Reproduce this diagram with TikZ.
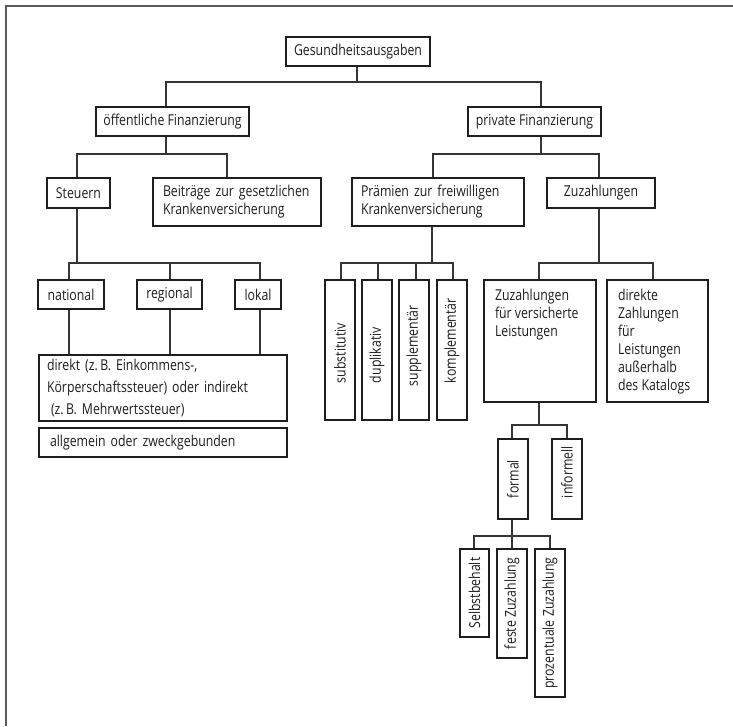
\documentclass[tikz,border=0pt]{standalone}
\usepackage{fontspec}
\setmainfont{Open Sans}[FakeStretch=0.82]
\definecolor{ink}{HTML}{1E1E1E}
\definecolor{framecol}{HTML}{5A5A5A}
\tikzset{
  box/.style={draw=ink, line width=1.7pt, inner sep=0pt, text=ink,
    font=\fontsize{15}{18}\selectfont},
  vbox/.style={box, rotate=90},
  link/.style={draw=ink!90, line width=1.2pt},
}
\begin{document}
\begin{tikzpicture}[x=1pt,y=-1pt]
\useasboundingbox (0,0) rectangle (733,726);
\draw[framecol, line width=1.5pt] (733,6) -- (6,6) -- (6,726);

% level 0-1
\node[box, minimum width=144pt, minimum height=29pt] (root) at (358,51.5) {Gesundheitsausgaben};
\node[box, minimum width=153pt, minimum height=29pt] (oef) at (172.5,121.5) {öffentliche Finanzierung};
\node[box, minimum width=133pt, minimum height=29pt] (priv) at (534.5,121.5) {private Finanzierung};

% level 2
\node[box, minimum width=63pt, minimum height=30pt] (steu) at (78.5,193) {Steuern};
\node[box, minimum width=168pt, minimum height=48pt, align=left, text width=148pt] (beit) at (237,202) {Beiträge zur gesetzlichen\\Krankenversicherung};
\node[box, minimum width=172pt, minimum height=48pt, align=left, text width=154pt] (praem) at (438,202) {Prämien zur freiwilligen\\Krankenversicherung};
\node[box, minimum width=108pt, minimum height=30pt] (zuz) at (601,193) {Zuzahlungen};

% taxes
\node[box, minimum width=66pt, minimum height=29pt] (nat) at (71,294.5) {national};
\node[box, minimum width=65pt, minimum height=29pt] (reg) at (169.5,294.5) {regional};
\node[box, minimum width=46pt, minimum height=29pt] (lok) at (258,294.5) {lokal};
\node[box, minimum width=248pt, minimum height=66pt, align=left, text width=232pt,
  font=\fontsize{15}{22}\selectfont] (dir) at (163,388)
  {direkt (z.\,B. Einkommens-,\\Körperschaftssteuer) oder indirekt\\\hspace*{4pt}(z.\,B. Mehrwertssteuer)};
\node[box, minimum width=248pt, minimum height=29pt, align=left, text width=226pt] (allg) at (163,442.5) {allgemein oder zweckgebunden};

% voluntary insurance
\node[vbox, minimum width=140pt, minimum height=30pt] (sub) at (340,350) {\makebox[140pt][l]{\hspace*{37pt}substitutiv}};
\node[vbox, minimum width=140pt, minimum height=30pt] (dup) at (377,350) {\makebox[140pt][l]{\hspace*{37pt}duplikativ}};
\node[vbox, minimum width=140pt, minimum height=30pt] (sup) at (414,350) {\makebox[140pt][l]{\hspace*{34pt}supplementär}};
\node[vbox, minimum width=140pt, minimum height=30pt] (kom) at (452,350) {\makebox[140pt][l]{\hspace*{37pt}komplementär}};

% co-payments
\node[box, minimum width=112pt, minimum height=122pt] (zfv) at (540,341)
  {\parbox[c][122pt][t]{90pt}{\vspace*{9pt}Zuzahlungen\\für versicherte\\Leistungen}};
\node[box, minimum width=101pt, minimum height=122pt] (dzl) at (657.5,341)
  {\parbox[c][122pt][t]{79pt}{\vspace*{9pt}direkte\\Zahlungen\\für\\Leistungen\\außerhalb\\des Katalogs}};

\node[vbox, minimum width=80pt, minimum height=30pt] (form) at (513,479) {\makebox[80pt][l]{\hspace*{21pt}formal}};
\node[vbox, minimum width=80pt, minimum height=30pt] (inf) at (567,479) {\makebox[80pt][l]{\hspace*{21pt}informell}};

\node[vbox, minimum width=88pt, minimum height=29pt] (selb) at (474.5,593) {Selbstbehalt};
\node[vbox, minimum width=109pt, minimum height=30pt] (fest) at (512,603.5) {feste Zuzahlung};
\node[vbox, minimum width=148pt, minimum height=30pt] (proz) at (550,623) {prozentuale Zuzahlung};

% connectors
\draw[link] (357,0 |- root.south) -- (357,82) -| (166,0 |- oef.north);
\draw[link] (357,82) -| (541,0 |- priv.north);
\draw[link] (166,0 |- oef.south) -- (166,154) -| (77,0 |- steu.north);
\draw[link] (166,154) -| (227,0 |- beit.north);
\draw[link] (541,0 |- priv.south) -- (541,154) -| (433,0 |- praem.north);
\draw[link] (541,154) -| (599,0 |- zuz.north);

\draw[link] (77,0 |- steu.south) -- (77,263) -| (69,0 |- nat.north);
\draw[link] (77,263) -| (260,0 |- lok.north);
\draw[link] (170,263) -- (170,0 |- reg.north);
\draw[link] (69,0 |- nat.south) -- (69,0 |- dir.north);
\draw[link] (170,0 |- reg.south) -- (170,0 |- dir.north);
\draw[link] (260,0 |- lok.south) -- (260,0 |- dir.north);

\draw[link] (432,0 |- praem.south) -- (432,263) -| (341,0 |- sub.east);
\draw[link] (432,263) -| (453,0 |- kom.east);
\draw[link] (378,263) -- (378,0 |- dup.east);
\draw[link] (416,263) -- (416,0 |- sup.east);

\draw[link] (599,0 |- zuz.south) -- (599,263) -| (539,0 |- zfv.north);
\draw[link] (599,263) -| (653,0 |- dzl.north);

\draw[link] (539,0 |- zfv.south) -- (539,425) -| (512,0 |- form.east);
\draw[link] (539,425) -| (567,0 |- inf.east);

\draw[link] (512,0 |- form.west) -- (512,536) -| (474,0 |- selb.east);
\draw[link] (512,536) -- (512,0 |- fest.east);
\draw[link] (512,536) -| (550,0 |- proz.east);
\end{tikzpicture}
\end{document}
